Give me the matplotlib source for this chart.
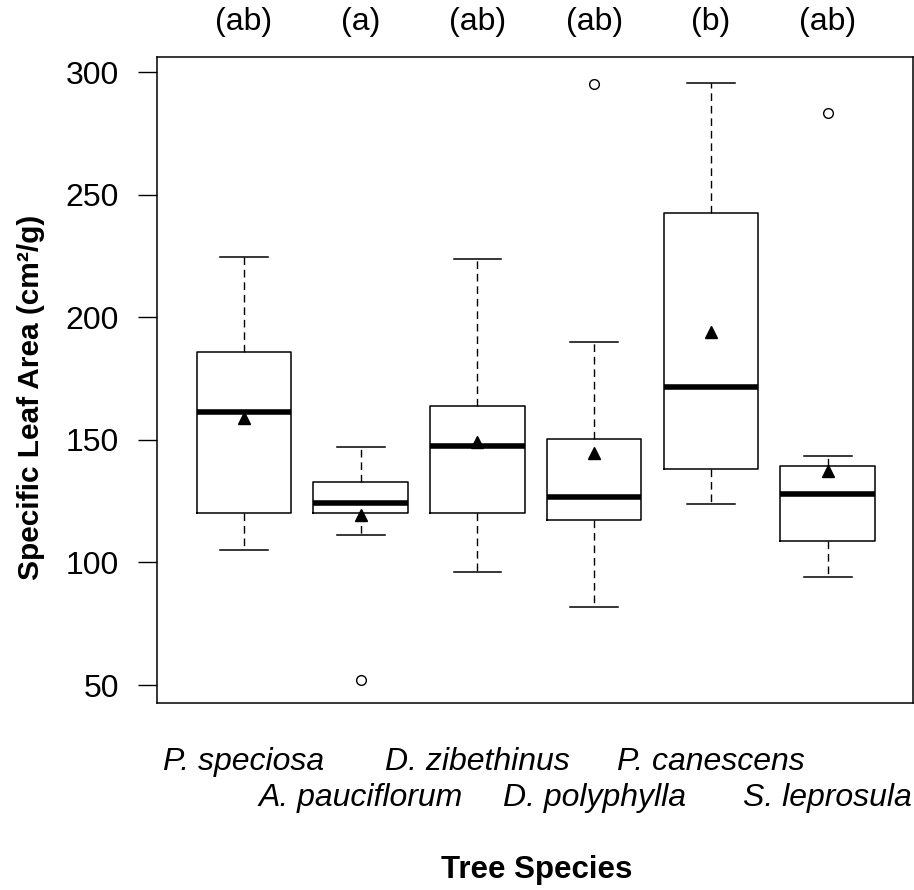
import matplotlib.pyplot as plt
import numpy as np

plt.rcParams['font.family'] = ['Liberation Sans', 'DejaVu Sans']

species = ["P. speciosa", "A. pauciflorum", "D. zibethinus",
           "D. polyphylla", "P. canescens", "S. leprosula"]
letters = ["(ab)", "(a)", "(ab)", "(ab)", "(b)", "(ab)"]

# five-number summaries
whislo = [105.1, 111.2, 96.1, 81.8, 123.8, 94.2]
q1 = [120.1, 120.1, 120.1, 117.2, 138.2, 108.7]
med = [161.2, 124.1, 147.5, 126.5, 171.5, 127.8]
q3 = [185.7, 132.7, 163.9, 150.3, 242.5, 139.4]
whishi = [224.5, 147.2, 223.8, 189.8, 295.6, 143.5]
means = [159.0, 119.3, 149.2, 144.7, 193.8, 137.3]
outliers = [[], [52.0], [], [295.1], [], [283.3]]

stats = []
for i in range(len(species)):
    stats.append(dict(med=med[i], q1=q1[i], q3=q3[i], whislo=whislo[i],
                      whishi=whishi[i], mean=means[i], fliers=outliers[i]))

fig = plt.figure(figsize=(9.14, 8.90), dpi=100)
ax = fig.add_axes([0.1718, 0.2101, 0.827, 0.7258])

pos = np.arange(1, len(species) + 1)
ax.bxp(stats, positions=pos, widths=0.81, capwidths=0.41, showmeans=True,
       boxprops=dict(color="black", linewidth=1.1),
       whiskerprops=dict(color="black", linewidth=1.0, linestyle=(0, (5.5, 3.5))),
       capprops=dict(color="black", linewidth=1.1),
       medianprops=dict(color="black", linewidth=4.0, solid_capstyle="butt"),
       meanprops=dict(marker="^", markerfacecolor="black", markeredgecolor="black",
                      markersize=8),
       flierprops=dict(marker="o", markerfacecolor="white", markeredgecolor="black",
                       markersize=7, markeredgewidth=1.0))

ax.set_xlim(0.255, 6.73)
ax.set_ylim(42.7, 306.1)
ax.set_yticks([50, 100, 150, 200, 250, 300])
ax.tick_params(axis="y", labelsize=23, length=13.5, width=1.0, pad=14)
ax.set_xticks([])
for s in ax.spines.values():
    s.set_linewidth(1.1)

# species names on two alternating rows, letters on top
for i, (p, name, let) in enumerate(zip(pos, species, letters)):
    yrow = -0.0913 if i % 2 == 0 else -0.147
    ax.text(p, yrow, name, transform=ax.get_xaxis_transform(), ha="center",
            va="center", fontsize=23, style="italic")
    ax.text(p, 1.054, let, transform=ax.get_xaxis_transform(), ha="center",
            va="center", fontsize=23)

fig.text(0.587, 0.0225, "Tree Species", ha="center", va="center",
         fontsize=22.5, fontweight="bold")
fig.text(0.034, 0.554, "Specific Leaf Area (cm²/g)", ha="center", va="center",
         rotation=90, fontsize=21.5, fontweight="bold")

fig.savefig("out.png", dpi=100)
